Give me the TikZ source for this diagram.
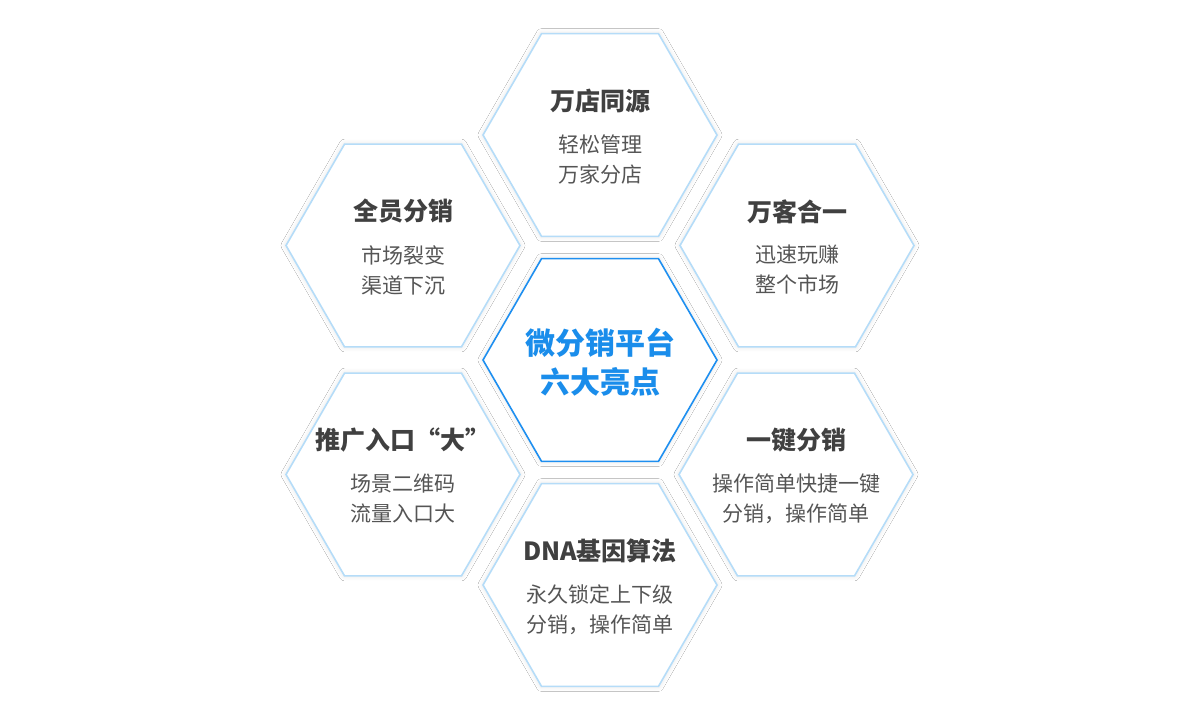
\documentclass[tikz,border=0pt]{standalone}
\usepackage{fontspec}
\newfontfamily\cjk{Noto Sans CJK SC}
\usetikzlibrary{shapes.geometric, shadows.blur}

\begin{document}
\begin{tikzpicture}[x=1pt, y=-1pt]
    % Define colours
    \definecolor{cellBorder}{HTML}{B5DCF8}
    \definecolor{hubBorder}{HTML}{1E8FF0}
    \definecolor{hubText}{HTML}{1A8DEB}
    \definecolor{titleText}{HTML}{404040}
    \definecolor{subText}{HTML}{555555}

    \tikzset{
        hexcell/.style={regular polygon, regular polygon sides=6, minimum size=234pt,
            inner sep=0pt, outer sep=0pt, draw=cellBorder, line width=1.6pt, fill=white,
            blur shadow={shadow xshift=0pt, shadow yshift=0pt, shadow blur radius=5pt,
                shadow blur steps=10, shadow opacity=12}},
        hubcell/.style={hexcell, draw=hubBorder},
        cellTitle/.style={font=\cjk\bfseries\fontsize{25}{30}\selectfont, text=titleText, inner sep=0pt},
        cellSub/.style={font=\cjk\fontsize{21}{30}\selectfont, text=subText, align=center, inner sep=0pt},
        hubTitle/.style={font=\cjk\bfseries\fontsize{30}{39}\selectfont, text=hubText, align=center, inner sep=0pt}
    }

    % Page size and background
    \useasboundingbox[fill=white] (0,0) rectangle (1200,721);

    % Draw the six outer cells
    \foreach \name/\x/\y/\title/\sub in {
        up/600/135/万店同源/轻松管理\\万家分店,
        upleft/403/245.5/全员分销/市场裂变\\渠道下沉,
        upright/797/245.5/万客合一/迅速玩赚\\整个市场,
        downleft/403/474.5/推广入口“大”/场景二维码\\流量入口大,
        downright/796/474.5/一键分销/操作简单快捷一键\\分销，操作简单,
        down/600/585/DNA基因算法/永久锁定上下级\\分销，操作简单}
    {
        \node[hexcell] (cell-\name) at (\x,\y) {};
        \node[cellTitle] (title-\name) at ([yshift=34pt]cell-\name.center) {\title};
        \node[cellSub] (sub-\name) at ([yshift=-24.5pt]cell-\name.center) {\sub};
    }

    % Draw the centre cell
    \node[hubcell] (hub) at (600,360) {};
    \node[hubTitle] (hub-text) at ([yshift=-2pt]hub.center) {微分销平台\\六大亮点};

\end{tikzpicture}
\end{document}
